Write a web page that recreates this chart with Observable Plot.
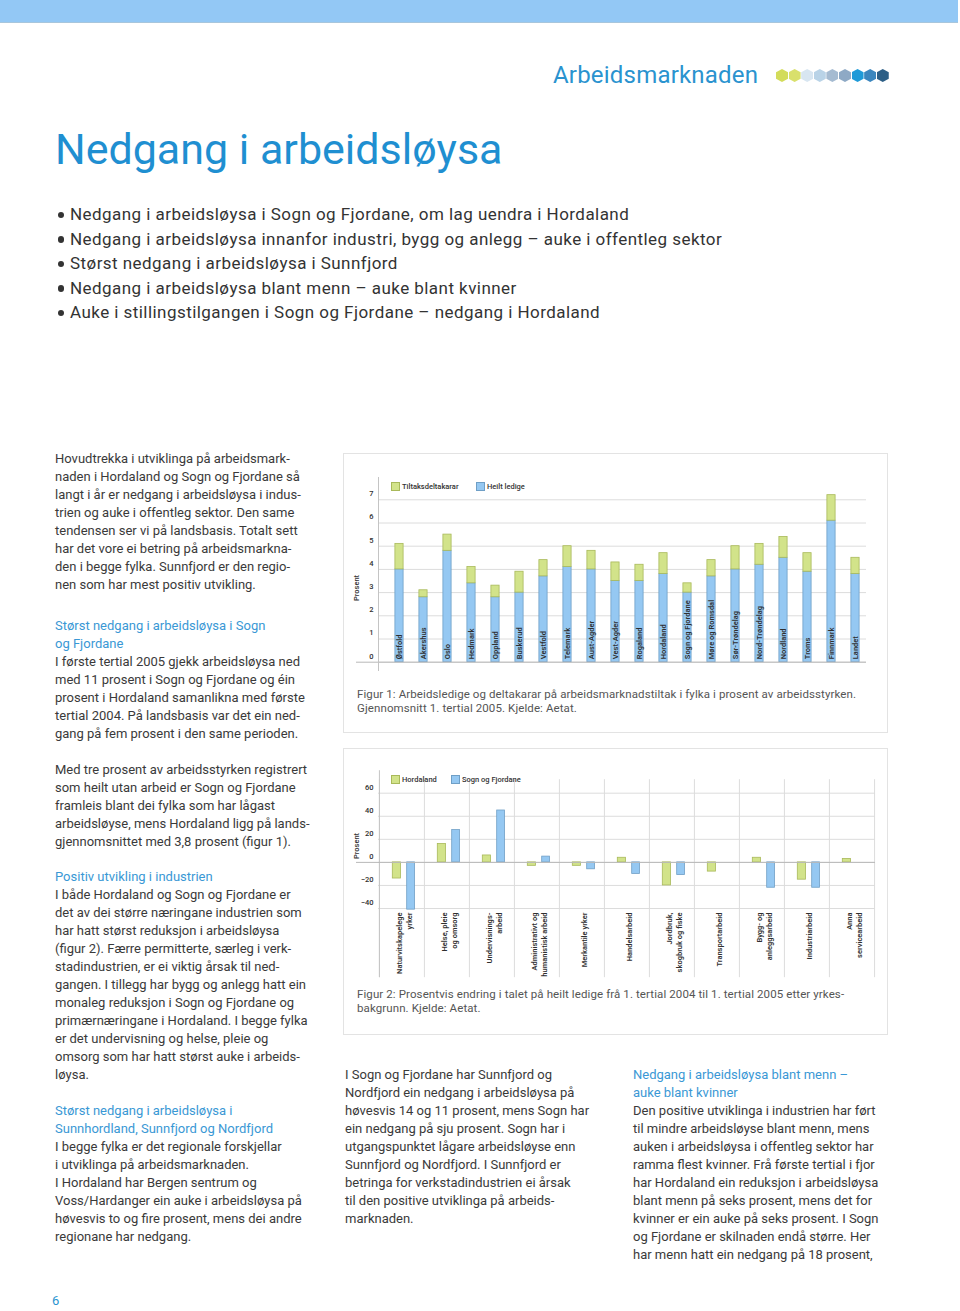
<!DOCTYPE html>
<html><head><meta charset="utf-8">
<script src="https://cdn.jsdelivr.net/npm/d3@7"></script>
<script src="https://cdn.jsdelivr.net/npm/@observablehq/plot@0.6"></script>
<style>
body{margin:0;width:960px;height:1311px;position:relative;background:#fff;font-family:Roboto,"Noto Sans",sans-serif;overflow:hidden;color:#3a3a3a}
.abs{position:absolute}
.topband{left:0;top:0;width:958px;height:22px;background:#93c8f5;border-bottom:1px solid #a8c6dc}
.section{left:553px;top:59px;font-size:24px;line-height:32px;color:#2a93cf;white-space:nowrap;letter-spacing:0.2px}
.hexes{left:776px;top:69px;display:flex;gap:0.6px}
.hexes div{width:12px;height:13px;clip-path:polygon(50% 0,100% 25%,100% 75%,50% 100%,0 75%,0 25%)}
.title{left:55px;top:123px;font-size:43px;line-height:52px;color:#1f8fd1;white-space:nowrap}
.bullets{left:56px;top:202px;font-size:17px;line-height:24.5px;color:#333;white-space:nowrap;letter-spacing:0.45px}
.bullets span{display:inline-block;width:14px;position:relative;vertical-align:top;height:24.5px}
.bullets span::before{content:"";position:absolute;left:1.5px;top:9.5px;width:6.5px;height:6.5px;border-radius:50%;background:#333}
.col{font-size:13px;line-height:18px;white-space:nowrap;color:#3a3a3a}
.h{color:#3a98d5}
.box{border:1px solid #e3e3e3;box-sizing:border-box}
.cap{font-size:11.5px;line-height:14px;color:#555;white-space:nowrap;letter-spacing:0.1px}
.leg{font-size:7.5px;font-weight:500;color:#333;white-space:nowrap;display:flex;align-items:center}
.leg i{display:inline-block;width:7px;height:7px;margin-right:3px}
.ylab{font-size:7.5px;font-weight:500;color:#333;transform:translate(-50%,-50%) rotate(-90deg);white-space:nowrap}
.pg{left:52px;top:1293px;font-size:13px;color:#2a93cf}
</style></head><body>
<div class="abs topband"></div>
<div class="abs section">Arbeidsmarknaden</div>
<div class="abs hexes">
<div style="background:#d3dc5a"></div><div style="background:#d9e06c"></div><div style="background:#d8e6f1"></div><div style="background:#b9d3e7"></div><div style="background:#a5bbd1"></div><div style="background:#8ea9c5"></div><div style="background:#1e9ad8"></div><div style="background:#3b86be"></div><div style="background:#2d5f86"></div>
</div>
<div class="abs title">Nedgang i arbeidsløysa</div>
<div class="abs bullets">
<span></span>Nedgang i arbeidsløysa i Sogn og Fjordane, om lag uendra i Hordaland<br>
<span></span>Nedgang i arbeidsløysa innanfor industri, bygg og anlegg – auke i offentleg sektor<br>
<span></span>Størst nedgang i arbeidsløysa i Sunnfjord<br>
<span></span>Nedgang i arbeidsløysa blant menn – auke blant kvinner<br>
<span></span>Auke i stillingstilgangen i Sogn og Fjordane – nedgang i Hordaland
</div>

<div class="abs col" style="left:55px;top:450px">
Hovudtrekka i utviklinga på arbeidsmark-<br>
naden i Hordaland og Sogn og Fjordane så<br>
langt i år er nedgang i arbeidsløysa i indus-<br>
trien og auke i offentleg sektor. Den same<br>
tendensen ser vi på landsbasis. Totalt sett<br>
har det vore ei betring på arbeidsmarkna-<br>
den i begge fylka. Sunnfjord er den regio-<br>
nen som har mest positiv utvikling.
</div>
<div class="abs col" style="left:55px;top:617px">
<span class="h">Størst nedgang i arbeidsløysa i Sogn<br>og Fjordane</span><br>
I første tertial 2005 gjekk arbeidsløysa ned<br>
med 11 prosent i Sogn og Fjordane og éin<br>
prosent i Hordaland samanlikna med første<br>
tertial 2004. På landsbasis var det ein ned-<br>
gang på fem prosent i den same perioden.
</div>
<div class="abs col" style="left:55px;top:761px">
Med tre prosent av arbeidsstyrken registrert<br>
som heilt utan arbeid er Sogn og Fjordane<br>
framleis blant dei fylka som har lågast<br>
arbeidsløyse, mens Hordaland ligg på lands-<br>
gjennomsnittet med 3,8 prosent (figur 1).
</div>
<div class="abs col" style="left:55px;top:868px">
<span class="h">Positiv utvikling i industrien</span><br>
I både Hordaland og Sogn og Fjordane er<br>
det av dei større næringane industrien som<br>
har hatt størst reduksjon i arbeidsløysa<br>
(figur 2). Færre permitterte, særleg i verk-<br>
stadindustrien, er ei viktig årsak til ned-<br>
gangen. I tillegg har bygg og anlegg hatt ein<br>
monaleg reduksjon i Sogn og Fjordane og<br>
primærnæringane i Hordaland. I begge fylka<br>
er det undervisning og helse, pleie og<br>
omsorg som har hatt størst auke i arbeids-<br>
løysa.
</div>
<div class="abs col" style="left:55px;top:1102px">
<span class="h">Størst nedgang i arbeidsløysa i<br>Sunnhordland, Sunnfjord og Nordfjord</span><br>
I begge fylka er det regionale forskjellar<br>
i utviklinga på arbeidsmarknaden.<br>
I Hordaland har Bergen sentrum og<br>
Voss/Hardanger ein auke i arbeidsløysa på<br>
høvesvis to og fire prosent, mens dei andre<br>
regionane har nedgang.
</div>
<div class="abs col" style="left:345px;top:1066px">
I Sogn og Fjordane har Sunnfjord og<br>
Nordfjord ein nedgang i arbeidsløysa på<br>
høvesvis 14 og 11 prosent, mens Sogn har<br>
ein nedgang på sju prosent. Sogn har i<br>
utgangspunktet lågare arbeidsløyse enn<br>
Sunnfjord og Nordfjord. I Sunnfjord er<br>
betringa for verkstadindustrien ei årsak<br>
til den positive utviklinga på arbeids-<br>
marknaden.
</div>
<div class="abs col" style="left:633px;top:1066px">
<span class="h">Nedgang i arbeidsløysa blant menn –<br>auke blant kvinner</span><br>
Den positive utviklinga i industrien har ført<br>
til mindre arbeidsløyse blant menn, mens<br>
auken i arbeidsløysa i offentleg sektor har<br>
ramma flest kvinner. Frå første tertial i fjor<br>
har Hordaland ein reduksjon i arbeidsløysa<br>
blant menn på seks prosent, mens det for<br>
kvinner er ein auke på seks prosent. I Sogn<br>
og Fjordane er skilnaden endå større. Her<br>
har menn hatt ein nedgang på 18 prosent,
</div>

<div class="abs box" style="left:343px;top:453px;width:545px;height:280px"></div>
<div class="abs box" style="left:343px;top:748px;width:545px;height:287px"></div>
<div class="abs" id="chart1" style="left:343px;top:455px"></div>
<div class="abs" id="chart2" style="left:343px;top:750px"></div>
<div class="abs leg" style="left:392px;top:482px"><i style="background:#d2e38a;outline:0.8px solid #a9b95a"></i>Tiltaksdeltakarar</div>
<div class="abs leg" style="left:477px;top:482px"><i style="background:#95c8f2;outline:0.8px solid #6f9fc6"></i>Heilt ledige</div>
<div class="abs leg" style="left:392px;top:775px"><i style="background:#d2e38a;outline:0.8px solid #a9b95a"></i>Hordaland</div>
<div class="abs leg" style="left:452px;top:775px"><i style="background:#95c8f2;outline:0.8px solid #6f9fc6"></i>Sogn og Fjordane</div>
<div class="abs ylab" style="left:356px;top:588px">Prosent</div>
<div class="abs ylab" style="left:356px;top:846px">Prosent</div>
<div class="abs cap" style="left:357px;top:687px">Figur 1: Arbeidsledige og deltakarar på arbeidsmarknadstiltak i fylka i prosent av arbeidsstyrken.<br>Gjennomsnitt 1. tertial 2005. Kjelde: Aetat.</div>
<div class="abs cap" style="left:357px;top:987px">Figur 2: Prosentvis endring i talet på heilt ledige frå 1. tertial 2004 til 1. tertial 2005 etter yrkes-<br>bakgrunn. Kjelde: Aetat.</div>
<div class="abs pg">6</div>

<script>
// Figur 1
const fylker = ["Østfold","Akershus","Oslo","Hedmark","Oppland","Buskerud","Vestfold","Telemark","Aust-Agder","Vest-Agder","Rogaland","Hordaland","Sogn og Fjordane","Møre og Romsdal","Sør-Trøndelag","Nord-Trøndelag","Nordland","Troms","Finnmark","Landet"];
const heiltLedige = [4.0,2.8,4.8,3.4,2.8,3.0,3.7,4.1,4.0,3.5,3.5,3.8,3.0,3.7,4.0,4.2,4.5,3.9,6.1,3.8];
const tiltaksdeltakarar = [1.1,0.3,0.7,0.7,0.5,0.9,0.7,0.9,0.8,0.8,0.7,0.9,0.4,0.7,1.0,0.9,0.9,0.8,1.1,0.7];
const yTicks1 = [0,1,2,3,4,5,6,7];

// Figur 2
const yrke = ["Naturvitskapelege\nyrker","Helse, pleie\nog omsorg","Undervisnings-\narbeid","Administrativt og\nhumanistisk arbeid","Merkantile yrker","Handelsarbeid","Jordbruk,\nskogbruk og fiske","Transportarbeid","Bygg- og\nanleggsarbeid","Industriarbeid","Anna\nservicearbeid"];
const hordaland = [-14,16,6,-3,-3,4,-20,-8,4,-15,3];
const sognOgFjordane = [-41,28,45,5,-6,-10,-11,0,-22,-22,0];
const yTicks2 = [-40,-20,0,20,40,60];

const BLUE="#95c8f2", BLUE_S="#6f9fc6", GREEN="#d2e38a", GREEN_S="#a9b95a";
const GRID="#dcdcdc", BASE="#b8b8b8", TXT="#2f2f2f";
const font = {fontFamily:"Roboto, 'Noto Sans', sans-serif", background:"transparent", overflow:"visible", color:TXT};

const rows1 = fylker.map((f,i)=>({fylke:f, heilt:heiltLedige[i], tiltak:tiltaksdeltakarar[i]}));
const p1 = Plot.plot({
  width:545, height:220, marginLeft:35, marginRight:22, marginTop:22, marginBottom:5,
  style:font,
  x:{domain:fylker, padding:0, insetLeft:5, insetRight:-4, axis:null},
  y:{domain:[0,7], range:[206.7,44.3], axis:null},
  marks:[
    Plot.gridY(yTicks1, {stroke:GRID, strokeOpacity:1}),
    Plot.axisY(yTicks1, {tickSize:0, tickPadding:5, dy:-6, fontSize:7.5, fontWeight:500, label:null}),
    Plot.barY(rows1, {x:"fylke", y1:0, y2:"heilt", fill:BLUE, stroke:BLUE_S, strokeWidth:0.8, insetLeft:7.9, insetRight:7.9}),
    Plot.barY(rows1, {x:"fylke", y1:"heilt", y2:d=>d.heilt+d.tiltak, fill:GREEN, stroke:GREEN_S, strokeWidth:0.8, insetLeft:7.9, insetRight:7.9}),
    Plot.ruleY([0], {stroke:BASE, insetLeft:-22}),
    Plot.frame({anchor:"left", stroke:"#c4c4c4"}),
    Plot.text(fylker, {x:d=>d, y:0, rotate:-90, textAnchor:"start", lineAnchor:"middle", dy:-3, fontSize:7.5, fontWeight:600, fill:TXT})
  ]
});
document.getElementById("chart1").append(p1);

const rows2 = yrke.map((c,i)=>({yrke:c, h:hordaland[i], s:sognOgFjordane[i]}));
const W2=545, ML2=35, MR2=13;
const step2 = (W2-ML2-MR2)/yrke.length;
const p2 = Plot.plot({
  width:W2, height:235, marginLeft:ML2, marginRight:MR2, marginTop:20, marginBottom:77,
  style:font,
  x:{domain:yrke, padding:0, axis:null},
  y:{domain:[-40,60], range:[158,42.7], axis:null},
  marks:[
    Plot.gridY(yTicks2, {stroke:GRID, strokeOpacity:1}),
    Plot.ruleX(yrke, {x:d=>d, dx:-step2/2, y1:71.7, y2:-100, stroke:GRID}),
    Plot.ruleX(yrke.slice(-1), {x:d=>d, dx:step2/2, y1:71.7, y2:-100, stroke:GRID}),
    Plot.ruleX(yrke.slice(0,1), {x:d=>d, dx:-step2/2, y1:79.5, y2:-100, stroke:"#c4c4c4"}),
    Plot.axisY(yTicks2, {tickSize:0, tickPadding:5, dy:-6, fontSize:7.5, fontWeight:500, label:null}),
    Plot.axisX({tickSize:0, tickPadding:4, tickRotate:-90, fontSize:7.5, fontWeight:600, lineHeight:1.33, dx:2, label:null}),
    Plot.barY(rows2, {x:"yrke", y1:0, y2:"h", fill:GREEN, stroke:GREEN_S, strokeWidth:0.8, insetLeft:13.3, insetRight:23.5}),
    Plot.barY(rows2.filter(d=>d.s!==0), {x:"yrke", y1:0, y2:"s", fill:BLUE, stroke:BLUE_S, strokeWidth:0.8, insetLeft:27.7, insetRight:9.5}),
    Plot.ruleY([0], {stroke:BASE, insetLeft:-22})
  ]
});
document.getElementById("chart2").append(p2);
</script>
</body></html>
